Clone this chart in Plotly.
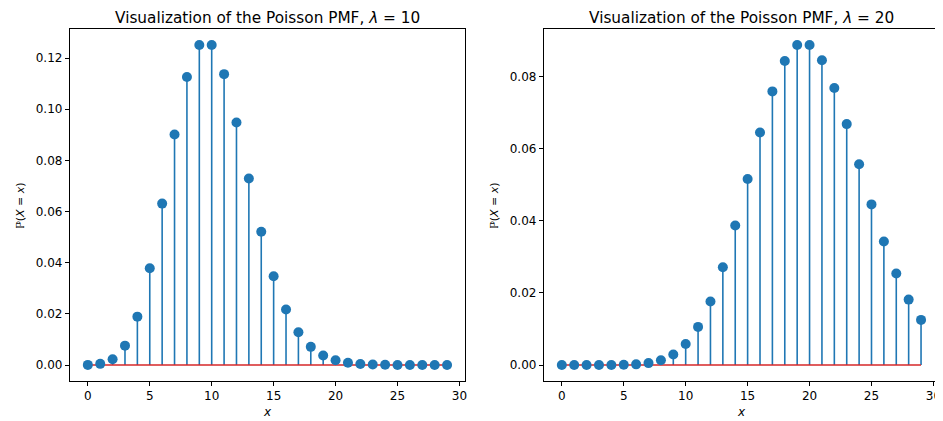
import plotly.graph_objects as go

x_vals = list(range(30))
pmf_lam10 = [0.0000454, 0.000454, 0.00227, 0.00757, 0.0189, 0.0378, 0.0631, 0.0901,
             0.1126, 0.1251, 0.1251, 0.1137, 0.0948, 0.0729, 0.0521, 0.0347, 0.0217,
             0.0128, 0.00709, 0.00373, 0.00187, 0.00089, 0.000404, 0.000176,
             0.0000733, 0.0000293, 0.0000113, 0.0000042, 0.0000015, 0.0000005]
pmf_lam20 = [0.000000002, 0.00000004, 0.0000004, 0.0000027, 0.000014, 0.000055,
             0.000183, 0.000523, 0.00131, 0.00291, 0.00582, 0.01058, 0.01763,
             0.02712, 0.03874, 0.05165, 0.06457, 0.07596, 0.08440, 0.08884,
             0.08884, 0.08461, 0.07691, 0.06688, 0.05573, 0.04459, 0.03430,
             0.02541, 0.01815, 0.01252]
titles = ["Visualization of the Poisson PMF, <i>λ</i> = 10",
          "Visualization of the Poisson PMF, <i>λ</i> = 20"]
y_ticks_left = [0.00, 0.02, 0.04, 0.06, 0.08, 0.10, 0.12]
y_ticks_right = [0.00, 0.02, 0.04, 0.06, 0.08]
x_ticks = [0, 5, 10, 15, 20, 25, 30]

BLUE = "#1f77b4"
RED = "#d62728"
FONT = "DejaVu Sans"

fig = go.Figure()

panels = [("x", "y", pmf_lam10), ("x2", "y2", pmf_lam20)]
for xa, ya, vals in panels:
    sx, sy = [], []
    for xi, yi in zip(x_vals, vals):
        sx += [xi, xi, None]
        sy += [0, yi, None]
    fig.add_trace(go.Scatter(x=sx, y=sy, mode="lines", line=dict(color=BLUE, width=1.6),
                             xaxis=xa, yaxis=ya, showlegend=False, hoverinfo="skip"))
    fig.add_trace(go.Scatter(x=[x_vals[0], x_vals[-1]], y=[0, 0], mode="lines",
                             line=dict(color=RED, width=1.6),
                             xaxis=xa, yaxis=ya, showlegend=False))
    fig.add_trace(go.Scatter(x=x_vals, y=vals, mode="markers",
                             marker=dict(color=BLUE, size=10),
                             xaxis=xa, yaxis=ya, showlegend=False))

# page body has an 8px margin; work in reference pixels and subtract it
OFF = 8
W = 943 - OFF
H = 421 - OFF

def px_x(p):
    return (p - OFF) / W

def px_y(p):
    return 1 - (p - OFF) / H

ydom = [px_y(381), px_y(29)]
xdom1 = [px_x(70), px_x(466)]
xdom2 = [px_x(545), px_x(941)]

axis_common = dict(showline=True, linecolor="black", linewidth=1, mirror=True,
                   ticks="outside", ticklen=4, tickcolor="black", showgrid=False,
                   zeroline=False, tickfont=dict(family=FONT, size=12, color="black"))

def yrange(vals):
    m = max(vals)
    return [-0.05 * m, 1.05 * m]

fig.update_layout(
    width=W, height=H, margin=dict(l=0, r=0, t=0, b=0),
    plot_bgcolor="white", paper_bgcolor="white",
    font=dict(family=FONT, color="black"),
    xaxis=dict(domain=xdom1, range=[-1.45, 30.45], tickvals=x_ticks, anchor="y", **axis_common),
    yaxis=dict(domain=ydom, range=yrange(pmf_lam10), tickvals=y_ticks_left,
               tickformat=".2f", anchor="x", **axis_common),
    xaxis2=dict(domain=xdom2, range=[-1.45, 30.45], tickvals=x_ticks, anchor="y2", **axis_common),
    yaxis2=dict(domain=ydom, range=yrange(pmf_lam20), tickvals=y_ticks_right,
                tickformat=".2f", anchor="x2", **axis_common),
)

anns = []
for dom, title in [(xdom1, titles[0]), (xdom2, titles[1])]:
    cx = (dom[0] + dom[1]) / 2
    anns.append(dict(text=title, x=cx, y=px_y(8), xref="paper", yref="paper",
                     showarrow=False, font=dict(family=FONT, size=15.3, color="black"),
                     xanchor="center", yanchor="top", borderpad=0))
    anns.append(dict(text="<i>x</i>", x=cx, y=px_y(412), xref="paper", yref="paper",
                     showarrow=False, font=dict(family=FONT, size=12, color="black"),
                     xanchor="center", yanchor="middle"))
for xpx in [20, 495]:
    anns.append(dict(text="ℙ(<i>X</i> = <i>x</i>)", x=px_x(xpx), y=(ydom[0] + ydom[1]) / 2,
                     xref="paper", yref="paper", showarrow=False, textangle=-90,
                     font=dict(family=FONT, size=11, color="black"),
                     xanchor="center", yanchor="middle"))
fig.update_layout(annotations=anns)

fig.write_html("out.html")
